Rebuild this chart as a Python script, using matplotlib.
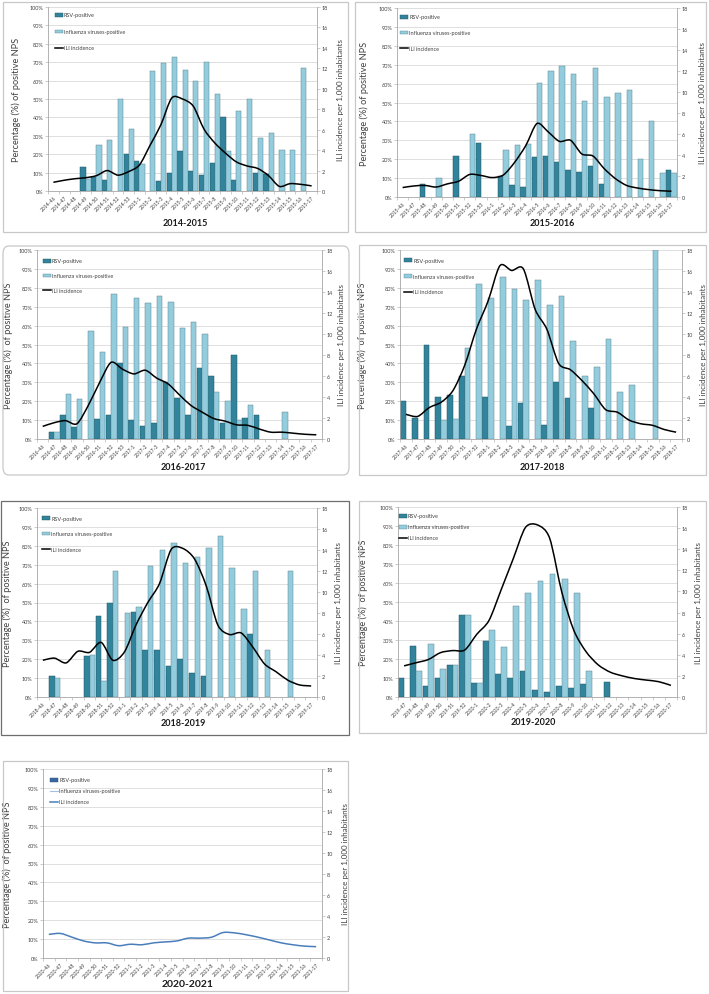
import matplotlib
matplotlib.use('Agg')
import matplotlib.pyplot as plt
import numpy as np
from matplotlib.path import Path
from matplotlib.patches import PathPatch, Rectangle, FancyBboxPatch
from matplotlib.lines import Line2D

plt.rcParams['font.family'] = ['Lato', 'DejaVu Sans']

# ---------------- data ----------------
labels_1415 = ['2014-46', '2014-47', '2014-48', '2014-49', '2014-50', '2014-51', '2014-52', '2014-53',
               '2015-1', '2015-2', '2015-3', '2015-4', '2015-5', '2015-6', '2015-7', '2015-8', '2015-9',
               '2015-10', '2015-11', '2015-12', '2015-13', '2015-14', '2015-15', '2015-16', '2015-17']
rsv_1415 = [0, 0, 0, 13.3, 7.5, 6, 0, 20, 16.5, 0, 5.5, 10, 22, 11, 8.5, 15, 40, 6, 0, 10, 9.5, 0, 0, 0, 0]
flu_1415 = [0, 0, 0, 6.5, 25, 27.5, 50, 33.5, 14.5, 65, 69.5, 73, 66, 60, 70, 52.5, 22, 43.5, 50, 29, 31.5,
            22.5, 22.5, 67, 0]
ili_1415 = [0.85, 1.05, 1.2, 1.3, 1.5, 2.0, 1.55, 1.9, 2.55, 4.5, 6.5, 9.1, 9.0, 8.3, 6.05, 4.7, 3.7, 2.85,
            2.45, 2.2, 1.5, 0.45, 0.72, 0.65, 0.5]

labels_1516 = ['2015-46', '2015-47', '2015-48', '2015-49', '2015-50', '2015-51', '2015-52', '2015-53',
               '2016-1', '2016-2', '2016-3', '2016-4', '2016-5', '2016-6', '2016-7', '2016-8', '2016-9',
               '2016-10', '2016-11', '2016-12', '2016-13', '2016-14', '2016-15', '2016-16', '2016-17']
rsv_1516 = [0, 0, 7, 0, 0, 21.5, 0, 28.5, 0, 11, 6.5, 5.5, 21, 21.5, 18.5, 14.5, 13, 16.5, 7, 0, 0, 0, 0, 0, 14.5]
flu_1516 = [0, 0, 0, 10, 0, 0, 33.5, 0, 0, 25, 27.5, 28, 60.5, 66.5, 69.5, 65, 51, 68.5, 53, 55, 56.5, 20, 40,
            12.5, 12.5]
ili_1516 = [0.9, 1.05, 1.1, 0.95, 1.25, 1.5, 2.15, 2.05, 1.85, 2.1, 3.3, 4.9, 7.0, 6.2, 5.3, 5.4, 4.1, 3.9,
            2.7, 1.75, 1.1, 0.85, 0.7, 0.6, 0.55]

labels_1617 = ['2016-46', '2016-47', '2016-48', '2016-49', '2016-50', '2016-51', '2016-52', '2016-53',
               '2017-1', '2017-2', '2017-3', '2017-4', '2017-5', '2017-6', '2017-7', '2017-8', '2017-9',
               '2017-10', '2017-11', '2017-12', '2017-13', '2017-14', '2017-15', '2017-16', '2017-17']
rsv_1617 = [0, 3.5, 12.5, 6.5, 0, 10.5, 12.5, 40, 10, 7, 8.5, 30, 21.5, 12.5, 37.5, 33.5, 8.5, 44.5, 11, 12.5,
            0, 0, 0, 0, 0]
flu_1617 = [0, 3.5, 24, 21, 57, 46, 76.5, 59, 74.5, 72, 75.5, 72.5, 58.5, 62, 55.5, 25, 20, 10, 18, 0, 0, 14.5,
            0, 0, 0]
ili_1617 = [1.2, 1.55, 1.75, 1.45, 3.2, 5.4, 7.3, 6.65, 6.2, 6.55, 5.8, 5.25, 4.2, 3.2, 2.55, 1.95, 1.7, 1.35,
            1.3, 0.95, 0.65, 0.65, 0.55, 0.45, 0.4]

labels_1718 = ['2017-46', '2017-47', '2017-48', '2017-49', '2017-50', '2017-51', '2017-52',
               '2018-1', '2018-2', '2018-3', '2018-4', '2018-5', '2018-6', '2018-7', '2018-8', '2018-9',
               '2018-10', '2018-11', '2018-12', '2018-13', '2018-14', '2018-15', '2018-16', '2018-17']
rsv_1718 = [20, 11, 50, 22, 23.5, 33.5, 0, 22, 0, 7, 19, 0, 7.5, 30, 21.5, 0, 16.5, 0, 0, 0, 0, 0, 0, 0]
flu_1718 = [0, 0, 0, 10, 10.5, 48, 82, 74.5, 85.5, 79.5, 73.5, 84, 71, 75.5, 52, 33.5, 38, 53, 25, 28.5, 0,
            100, 0, 0]
ili_1718 = [2.35, 2.15, 3.0, 3.5, 4.6, 7.0, 10.45, 13.15, 16.5, 16.05, 16.2, 12.35, 10.45, 7.2, 6.6, 5.55,
            4.3, 2.8, 2.55, 1.8, 1.45, 1.3, 0.9, 0.65]

labels_1819 = ['2018-46', '2018-47', '2018-48', '2018-49', '2018-50', '2018-51', '2018-52',
               '2019-1', '2019-2', '2019-3', '2019-4', '2019-5', '2019-6', '2019-7', '2019-8', '2019-9',
               '2019-10', '2019-11', '2019-12', '2019-13', '2019-14', '2019-15', '2019-16', '2019-17']
rsv_1819 = [0, 11, 0, 0, 21.5, 43, 50, 0, 45, 25, 25, 16.5, 20, 12.5, 11, 0, 0, 0, 33.5, 0, 0, 0, 0, 0]
flu_1819 = [0, 10, 0, 0, 22, 8.5, 66.5, 44.5, 47.5, 69.5, 78, 81.5, 71, 74, 79, 85, 68, 46.5, 66.5, 25, 0,
            66.5, 0, 0]
ili_1819 = [3.5, 3.7, 3.25, 4.35, 4.25, 5.2, 3.5, 4.3, 6.9, 9.0, 10.8, 14.05, 14.15, 13.15, 10.6, 6.85, 5.95,
            6.1, 4.75, 3.15, 2.4, 1.6, 1.15, 1.05]

labels_1920 = ['2019-47', '2019-48', '2019-49', '2019-50', '2019-51', '2019-52',
               '2020-1', '2020-2', '2020-3', '2020-4', '2020-5', '2020-6', '2020-7', '2020-8', '2020-9',
               '2020-10', '2020-11', '2020-12', '2020-13', '2020-14', '2020-15', '2020-16', '2020-17']
rsv_1920 = [10, 27, 6, 10, 17, 43, 7.5, 29.5, 12, 10, 13.5, 3.5, 2.5, 6, 4.5, 7, 0, 8, 0, 0, 0, 0, 0]
flu_1920 = [0, 13.5, 28, 14.5, 17, 43, 7.5, 35.5, 26.5, 48, 55, 61, 64.5, 62, 54.5, 13.5, 0, 0, 0, 0, 0, 0, 0]
ili_1920 = [2.95, 3.25, 3.55, 4.2, 4.4, 4.45, 5.95, 7.25, 10.15, 13.1, 16.05, 16.3, 15.05, 9.95, 6.3, 4.3,
            3.05, 2.35, 2.0, 1.75, 1.6, 1.45, 1.1]

labels_2021 = ['2020-46', '2020-47', '2020-48', '2020-49', '2020-50', '2020-51', '2020-52',
               '2021-1', '2021-2', '2021-3', '2021-4', '2021-5', '2021-6', '2021-7', '2021-8', '2021-9',
               '2021-10', '2021-11', '2021-12', '2021-13', '2021-14', '2021-15', '2021-16', '2021-17']
ili_2021 = [2.25, 2.34, 1.98, 1.62, 1.44, 1.44, 1.17, 1.31, 1.26, 1.44, 1.53, 1.62, 1.89, 1.89, 1.98, 2.43,
            2.39, 2.21, 1.98, 1.71, 1.44, 1.26, 1.13, 1.08]

legend_labels = ['RSV-positive', 'Influenza viruses-positive', 'ILI incidence']
left_label_a = 'Percentage (%) of positive NPS'
left_label_b = 'Percentage (%)  of positive NPS'
right_label = 'ILI incidence per 1,000 inhabitants'

# ---------------- style ----------------
W, H = 709, 995
RSV_C, RSV_E = '#31849B', '#1f5563'
FLU_C, FLU_E = '#93CDDD', '#5d8793'
GRID = '#d9d9d9'
SPINE = '#a6a6a6'
TXT = '#404040'

fig = plt.figure(figsize=(W / 100, H / 100), dpi=100)
fig.patch.set_facecolor('white')


def fx(px):
    return px / W


def fy(py):
    return 1 - py / H


def smooth_path(xs, ys):
    pts = np.column_stack([xs, ys]).astype(float)
    n = len(pts)
    verts = [pts[0]]
    codes = [Path.MOVETO]
    for i in range(n - 1):
        p0 = pts[i - 1] if i > 0 else pts[i]
        p1 = pts[i]
        p2 = pts[i + 1]
        p3 = pts[i + 2] if i + 2 < n else pts[i + 1]
        c1 = p1 + (p2 - p0) / 7.0
        c2 = p2 - (p3 - p1) / 7.0
        verts += [c1, c2, p2]
        codes += [Path.CURVE4] * 3
    return Path(verts, codes)


def draw_panel(labels, rsv, flu, ili, rect, box, title, ylab_x, leftlab, leg,
               line_color='black', legend_style='bars', box_color='#c8c8c8', box_round=False,
               title_size=6.5):
    l, r, t, b = rect
    # frame box
    bl, bt, br, bb = box
    if box_round:
        fr = FancyBboxPatch((fx(bl), fy(bb)), fx(br - bl), (bb - bt) / H,
                            boxstyle='round,pad=0,rounding_size=0.008', transform=fig.transFigure,
                            fc='none', ec=box_color, lw=0.9)
    else:
        fr = Rectangle((fx(bl), fy(bb)), fx(br - bl), (bb - bt) / H, transform=fig.transFigure,
                       fc='none', ec=box_color, lw=0.9)
    fig.add_artist(fr)

    ax = fig.add_axes([fx(l), fy(b), fx(r - l), (b - t) / H])
    n = len(labels)
    x = np.arange(n)
    ax.set_xlim(-0.5, n - 0.5)
    ax.set_ylim(0, 100)
    ax.set_yticks(np.arange(0, 101, 10))
    ax.set_yticklabels([f'{v}%' for v in range(0, 101, 10)])
    ax.yaxis.grid(True, color=GRID, lw=0.6)
    ax.set_axisbelow(True)
    bw = 0.48
    if rsv is not None:
        rv = np.array(rsv, float)
        m = rv > 0
        ax.bar(x[m] - bw / 2, rv[m], bw, color=RSV_C, edgecolor=RSV_E, linewidth=0.35, zorder=2)
    if flu is not None:
        fv = np.array(flu, float)
        m = fv > 0
        ax.bar(x[m] + bw / 2, fv[m], bw, color=FLU_C, edgecolor=FLU_E, linewidth=0.35, zorder=2)

    ax.set_xticks(x)
    ax.set_xticklabels(labels, rotation=45, ha='right', rotation_mode='anchor', fontsize=3.6, color=TXT)
    ax.set_xticks(np.arange(-0.5, n, 1), minor=True)
    ax.tick_params(axis='x', which='major', length=0, pad=2.5)
    ax.tick_params(axis='x', which='minor', length=2, width=0.4, color=SPINE)
    ax.tick_params(axis='y', labelsize=4, length=2, width=0.4, color=SPINE, labelcolor=TXT, pad=1.5)
    for s in ['top', 'right']:
        ax.spines[s].set_visible(False)
    for s in ['left', 'bottom']:
        ax.spines[s].set_color(SPINE)
        ax.spines[s].set_linewidth(0.6)

    ax2 = ax.twinx()
    ax2.set_ylim(0, 18)
    ax2.set_yticks(np.arange(0, 19, 2))
    ax2.tick_params(axis='y', labelsize=4, length=2, width=0.4, color=SPINE, labelcolor=TXT, pad=1.5)
    for s in ['top', 'left', 'bottom']:
        ax2.spines[s].set_visible(False)
    ax2.spines['right'].set_color(SPINE)
    ax2.spines['right'].set_linewidth(0.6)
    ax2.add_patch(PathPatch(smooth_path(x, ili), fc='none', ec=line_color, lw=1.1, zorder=3))

    yc = (t + b) / 2
    ax.set_ylabel(leftlab, fontsize=6.6, color=TXT)
    ax.yaxis.set_label_coords(fx(ylab_x[0]), fy(yc), transform=fig.transFigure)
    ax2.set_ylabel(right_label, fontsize=5.8, color=TXT, rotation=90)
    ax2.yaxis.set_label_coords(fx(ylab_x[1]), fy(yc), transform=fig.transFigure)

    # title
    tx, ty, tt = title
    fig.text(fx(tx), fy(ty), tt, ha='center', va='center', fontsize=title_size, fontweight='bold',
             color='#1a1a1a')

    # legend (manual, in figure pixels)
    lx, ly, sp = leg
    for i, txt in enumerate(legend_labels):
        yy = ly + i * sp
        if legend_style == 'bars':
            if i == 0:
                fig.add_artist(Rectangle((fx(lx), fy(yy + 1.7)), fx(8), 3.4 / H, transform=fig.transFigure,
                                         fc=RSV_C, ec=RSV_E, lw=0.3))
            elif i == 1:
                fig.add_artist(Rectangle((fx(lx), fy(yy + 1.7)), fx(8), 3.4 / H, transform=fig.transFigure,
                                         fc=FLU_C, ec=FLU_E, lw=0.3))
            else:
                fig.add_artist(Line2D([fx(lx), fx(lx + 8)], [fy(yy), fy(yy)], transform=fig.transFigure,
                                      color=line_color, lw=1.1))
        else:
            if i == 0:
                fig.add_artist(Rectangle((fx(lx), fy(yy + 1.7)), fx(8), 3.4 / H, transform=fig.transFigure,
                                         fc='#3b67a0', ec='#2a4c78', lw=0.3))
            elif i == 1:
                fig.add_artist(Line2D([fx(lx), fx(lx + 8)], [fy(yy), fy(yy)], transform=fig.transFigure,
                                      color='#a5c0e0', lw=0.8))
            else:
                fig.add_artist(Line2D([fx(lx), fx(lx + 8)], [fy(yy), fy(yy)], transform=fig.transFigure,
                                      color=line_color, lw=1.1))
        fig.text(fx(lx + 9), fy(yy), txt, ha='left', va='center', fontsize=4, color=TXT)
    return ax, ax2


draw_panel(labels_1415, rsv_1415, flu_1415, ili_1415, rect=(48, 317, 8, 192), box=(3, 3, 348, 233),
           title=(185, 224, '2014-2015'), ylab_x=(21, 337), leftlab=left_label_a, leg=(55, 16, 16.5))
draw_panel(labels_1516, rsv_1516, flu_1516, ili_1516, rect=(397, 677, 9, 198), box=(355, 3, 706, 233),
           title=(552, 224, '2015-2016'), ylab_x=(369, 699), leftlab=left_label_a, leg=(400, 18, 15.7))
draw_panel(labels_1617, rsv_1617, flu_1617, ili_1617, rect=(37, 322, 251, 440), box=(3, 247, 349, 476),
           title=(183, 468, '2016-2017'), ylab_x=(13, 338), leftlab=left_label_b, leg=(43, 262, 14.7),
           box_round=True)
draw_panel(labels_1718, rsv_1718, flu_1718, ili_1718, rect=(400, 682, 251, 440), box=(359, 246, 706, 476),
           title=(542, 468, '2017-2018'), ylab_x=(367, 700), leftlab=left_label_b, leg=(404, 261, 16))
draw_panel(labels_1819, rsv_1819, flu_1819, ili_1819, rect=(37, 317, 509, 698), box=(1, 502, 349, 736),
           title=(183, 724, '2018-2019'), ylab_x=(12, 335), leftlab=left_label_b, leg=(42, 519, 15.7),
           box_color='#6e6e6e')
draw_panel(labels_1920, rsv_1920, flu_1920, ili_1920, rect=(398, 677, 508, 698), box=(359, 502, 706, 734),
           title=(533, 723, '2019-2020'), ylab_x=(368, 695), leftlab=left_label_b, leg=(399, 517, 10.8))
draw_panel(labels_2021, None, None, ili_2021, rect=(43, 322, 770, 959), box=(3, 762, 348, 992),
           title=(188, 985, '2020-2021'), ylab_x=(12, 342), leftlab=left_label_b, leg=(50, 781, 11),
           line_color='#4a7ebb', legend_style='blue', title_size=7.5)

fig.savefig('out.png', dpi=100, facecolor='white')
